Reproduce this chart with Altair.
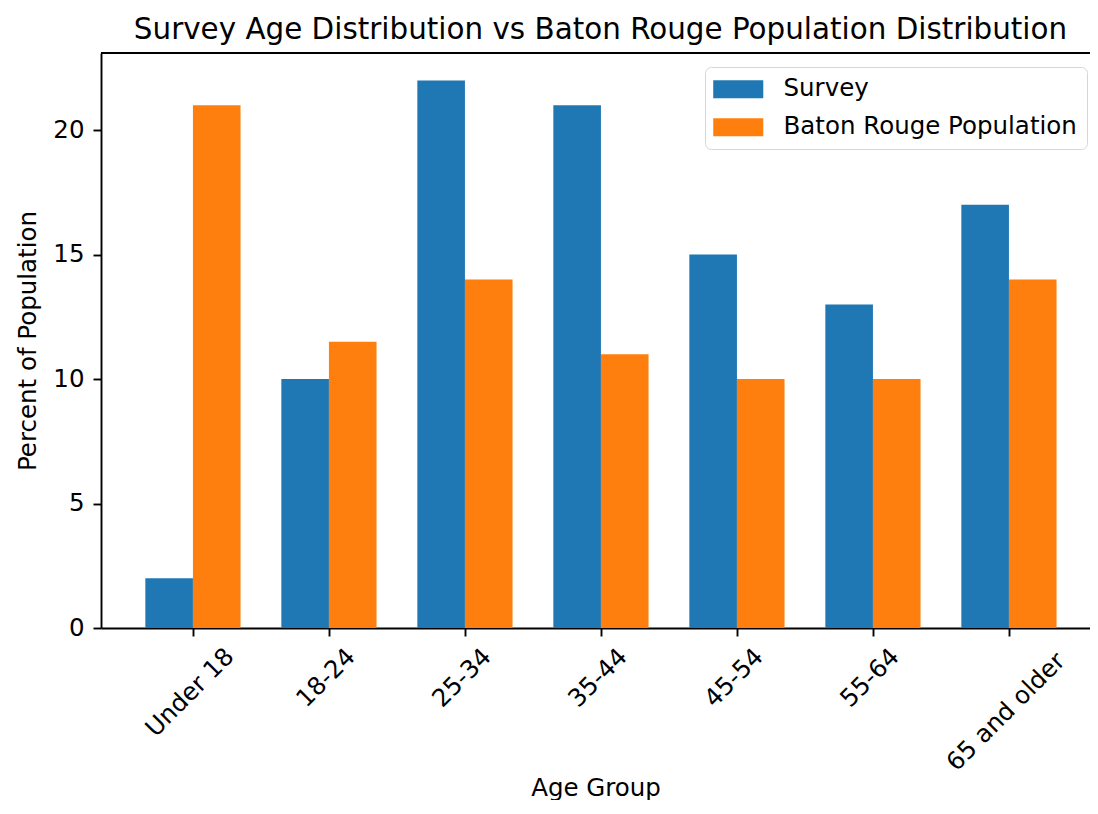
import json
import altair as alt
import pandas as pd

# ---- data ----
categories = ["Under 18", "18-24", "25-34", "35-44", "45-54", "55-64", "65 and older"]
survey = [2, 10, 22, 21, 15, 13, 17]
population = [21, 11.5, 14, 11, 10, 10, 14]
series_names = ["Survey", "Baton Rouge Population"]
colors = ["#1f77b4", "#ff7f0e"]
y_ticks = [0, 5, 10, 15, 20]

rows = []
for i, c in enumerate(categories):
    rows.append({"idx": i, "category": c, "series": series_names[0], "order": 0, "value": survey[i]})
    rows.append({"idx": i, "category": c, "series": series_names[1], "order": 1, "value": population[i]})
df = pd.DataFrame(rows)

# ---- style ----
FONT = "DejaVu Sans"
FS = 24.5
TITLE_FS = 29.4
BAR_W = 0.35
W, H = 989, 575
LINE_W = 1.9

cat_js = json.dumps(categories)

x_axis = alt.Axis(
    values=list(range(len(categories))),
    labelExpr=f"{cat_js}[datum.value]",
    labelAngle=315,
    labelAlign="center",
    labelBaseline="middle",
    labelPadding=alt.ExprRef(expr=f"17.6 + 4.86 * length({cat_js}[datum.value])"),
    labelOffset=-3,
    labelOverlap=False,
    labelFlush=False,
    labelFont=FONT,
    labelFontSize=FS,
    labelColor="black",
    grid=False,
    domainColor="black",
    domainWidth=LINE_W,
    tickColor="black",
    tickWidth=LINE_W,
    tickSize=8,
    title="Age Group",
    titleFont=FONT,
    titleFontSize=FS,
    titleFontWeight="normal",
    titleColor="black",
    titleBaseline="alphabetic",
    titleY=167,
)

y_axis = alt.Axis(
    values=y_ticks,
    labelFont=FONT,
    labelFontSize=FS,
    labelColor="black",
    labelPadding=9,
    grid=False,
    domainColor="black",
    domainWidth=LINE_W,
    tickColor="black",
    tickWidth=LINE_W,
    tickSize=8,
    title="Percent of Population",
    titleFont=FONT,
    titleFontSize=FS,
    titleFontWeight="normal",
    titleColor="black",
    titleAngle=270,
    titleBaseline="alphabetic",
    titleX=-66,
)

legend = alt.Legend(
    title=None,
    orient="none",
    legendX=604,
    legendY=14,
    symbolType="M-2.78,-1L2.78,-1L2.78,1L-2.78,1Z",
    symbolSize=324,
    symbolStrokeWidth=0,
    symbolOpacity=1,
    symbolOffset=11,
    labelOffset=33,
    labelFont=FONT,
    labelFontSize=FS,
    labelColor="black",
    labelLimit=0,
    rowPadding=13,
    padding=10,
    fillColor="white",
    strokeColor="#d6d6d6",
    cornerRadius=6,
)

bars = alt.Chart(df).transform_calculate(
    x0=f"datum.idx + (datum.order - 1) * {BAR_W}",
    x1=f"datum.idx + datum.order * {BAR_W}",
).mark_bar().encode(
    x=alt.X("x0:Q", scale=alt.Scale(domain=[-0.676, 6.596], nice=False, zero=False), axis=x_axis),
    x2="x1:Q",
    y=alt.Y("value:Q", scale=alt.Scale(domain=[0, 23.1], nice=False), axis=y_axis),
    y2=alt.datum(0),
    color=alt.Color("series:N", scale=alt.Scale(domain=series_names, range=colors), legend=legend),
    order=alt.Order("order:Q"),
)

spine = alt.Chart(pd.DataFrame({"k": [0]})).mark_rule(color="black", strokeWidth=LINE_W).encode(
    x=alt.value(0), x2=alt.value(W), y=alt.value(0)
)

chart = alt.layer(bars, spine).properties(
    width=W,
    height=H,
    padding={"left": 93, "top": 45, "right": 0, "bottom": 172},
    autosize=alt.AutoSizeParams(type="none"),
    title=alt.TitleParams(
        text="Survey Age Distribution vs Baton Rouge Population Distribution",
        font=FONT,
        fontSize=TITLE_FS,
        fontWeight="normal",
        color="black",
        anchor="middle",
        baseline="top",
        offset=7,
        dx=5,
    ),
).configure_view(stroke=None)

chart.save("out.html", embed_options={"renderer": "svg", "actions": False})
